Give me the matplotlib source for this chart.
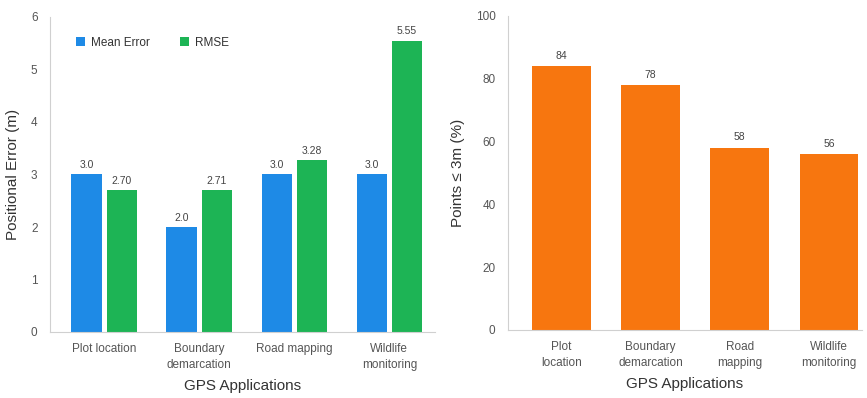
import numpy as np
import matplotlib.pyplot as plt

plt.rcParams['font.family'] = ['Liberation Sans', 'DejaVu Sans']

apps_left = ['Plot location', 'Boundary\ndemarcation', 'Road mapping', 'Wildlife\nmonitoring']
apps_right = ['Plot\nlocation', 'Boundary\ndemarcation', 'Road\nmapping', 'Wildlife\nmonitoring']
mean_error = [3.0, 2.0, 3.0, 3.0]
rmse = [2.70, 2.71, 3.28, 5.55]
mean_labels = ['3.0', '2.0', '3.0', '3.0']
rmse_labels = ['2.70', '2.71', '3.28', '5.55']
points_within = [84, 78, 58, 56]

blue = '#1e8ae6'
green = '#1db455'
orange = '#f7760f'
tick_grey = '#555555'
spine_grey = '#d0d0d0'

fig = plt.figure(figsize=(8.67, 3.98), dpi=100)
ax1 = fig.add_axes([50 / 867, 66 / 398, 385 / 867, 315 / 398])
ax2 = fig.add_axes([508 / 867, 68 / 398, 354 / 867, 314 / 398])


def style(ax):
    for s in ['top', 'right']:
        ax.spines[s].set_visible(False)
    for s in ['left', 'bottom']:
        ax.spines[s].set_color(spine_grey)
        ax.spines[s].set_linewidth(0.8)
    ax.tick_params(axis='both', length=0, colors=tick_grey, labelsize=8.5)
    ax.tick_params(axis='y', pad=9)
    ax.tick_params(axis='x', pad=8)


# positional error bars
x = np.arange(len(apps_left))
w = 0.32
b1 = ax1.bar(x - 0.185, mean_error, w, color=blue, label='Mean Error')
b2 = ax1.bar(x + 0.185, rmse, w, color=green, label='RMSE')
ax1.bar_label(b1, labels=mean_labels, padding=3, fontsize=7.5, color='#444444')
ax1.bar_label(b2, labels=rmse_labels, padding=3, fontsize=7.5, color='#444444')
ax1.set_xlim(-0.57, 3.48)
ax1.set_ylim(0, 6)
ax1.set_yticks(range(0, 7))
ax1.set_xticks(x)
ax1.set_xticklabels(apps_left, linespacing=1.45)
ax1.set_xlabel('GPS Applications', fontsize=11, color='#333333', labelpad=6)
ax1.set_ylabel('Positional Error (m)', fontsize=11, color='#333333', labelpad=8)
ax1.legend(loc='upper left', bbox_to_anchor=(0.04, 0.97), ncol=2, frameon=False,
           fontsize=8.5, handlelength=0.8, handleheight=0.8, columnspacing=2.5,
           handletextpad=0.5, labelcolor='#333333')
style(ax1)

# share of points within 3 m
x2 = np.arange(len(apps_right))
b3 = ax2.bar(x2, points_within, 0.66, color=orange)
ax2.bar_label(b3, padding=4, fontsize=7.5, color='#444444')
ax2.set_xlim(-0.6, 3.37)
ax2.set_ylim(0, 100)
ax2.set_yticks(range(0, 101, 20))
ax2.set_xticks(x2)
ax2.set_xticklabels(apps_right, linespacing=1.45)
ax2.set_xlabel('GPS Applications', fontsize=11, color='#333333', labelpad=6)
ax2.set_ylabel('Points ≤ 3m (%)', fontsize=11, color='#333333', labelpad=8)
style(ax2)

fig.savefig('out.png', dpi=100)
